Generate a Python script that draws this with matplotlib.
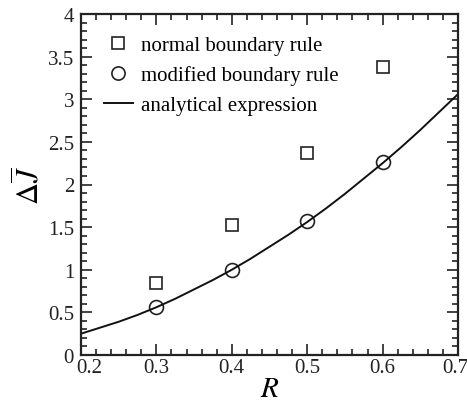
import matplotlib
matplotlib.use("Agg")
import matplotlib.pyplot as plt
import matplotlib.transforms as mtransforms
from matplotlib.ticker import MultipleLocator, FormatStrFormatter

plt.rcParams['font.family'] = ['Liberation Serif', 'DejaVu Serif']
plt.rcParams['mathtext.fontset'] = 'stix'

R_pts = [0.3, 0.4, 0.5, 0.6]
normal_rule = [0.84, 1.52, 2.37, 3.38]
modified_rule = [0.56, 1.0, 1.57, 2.26]

R_line = [0.20, 0.225, 0.25, 0.275, 0.30, 0.325, 0.35, 0.375, 0.40, 0.425, 0.45,
          0.475, 0.50, 0.525, 0.55, 0.575, 0.60, 0.625, 0.65, 0.675, 0.70]
analytical = [0.25, 0.32, 0.39, 0.47, 0.56, 0.66, 0.77, 0.88, 1.00, 1.13, 1.27,
              1.41, 1.56, 1.72, 1.89, 2.07, 2.25, 2.44, 2.64, 2.85, 3.06]

x_min, x_max = 0.2, 0.7

fig = plt.figure(figsize=(4.67, 4.06), dpi=100)
ax = fig.add_axes([81/467, 1-356/406, (458-81)/467, (356-15)/406])

ax.plot(R_pts, normal_rule, linestyle='none', marker='s', markersize=8.5,
        markerfacecolor='none', markeredgecolor='#222222', markeredgewidth=1.2,
        label='normal boundary rule')
ax.plot(R_pts, modified_rule, linestyle='none', marker='o', markersize=10,
        markerfacecolor='none', markeredgecolor='#222222', markeredgewidth=1.2,
        label='modified boundary rule')
ax.plot(R_line, analytical, color='#111111', linewidth=1.4, label='analytical expression')

ax.set_xlim(x_min, x_max)
ax.set_ylim(0, 4)
ax.xaxis.set_major_locator(MultipleLocator(0.1))
ax.xaxis.set_minor_locator(MultipleLocator(0.02))
ax.yaxis.set_major_locator(MultipleLocator(0.5))
ax.yaxis.set_minor_locator(MultipleLocator(0.1))
ax.xaxis.set_major_formatter(FormatStrFormatter('%g'))
ax.yaxis.set_major_formatter(FormatStrFormatter('%g'))
ax.tick_params(which='both', direction='in', top=True, right=True, labelsize=15,
               width=1.2, colors='#222222')
ax.tick_params(which='major', length=8)
ax.tick_params(axis='y', which='major', pad=5)
ax.tick_params(axis='x', which='major', pad=2.5)
ax.tick_params(which='minor', length=4)
for s in ax.spines.values():
    s.set_linewidth(1.6)
    s.set_color('#222222')

ax.set_xlabel(r'$R$', fontsize=21, labelpad=-1)
ax.set_ylabel(r'$\Delta\overline{J}$', fontsize=22, labelpad=1)

ax.legend(loc='upper left', frameon=False, fontsize=15, handlelength=1.35,
          handletextpad=0.42, labelspacing=0.5, borderaxespad=0.0,
          markerscale=0.95, bbox_to_anchor=(0.04, 0.962))

# shift end x tick labels inward like the reference
fig.canvas.draw()
for t in ax.get_xticklabels():
    xpos = t.get_position()[0]
    if abs(xpos - x_min) < 1e-6:
        t.set_transform(t.get_transform() +
                        mtransforms.ScaledTranslation(8/100, 0, fig.dpi_scale_trans))
    elif abs(xpos - x_max) < 1e-6:
        t.set_transform(t.get_transform() +
                        mtransforms.ScaledTranslation(-3/100, 0, fig.dpi_scale_trans))

fig.savefig('out.png', dpi=100)
